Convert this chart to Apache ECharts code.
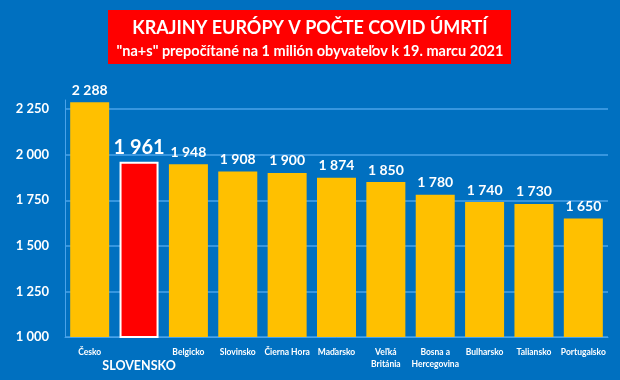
<!DOCTYPE html>
<html><head><meta charset="utf-8">
<script src="https://cdn.jsdelivr.net/npm/echarts@6/dist/echarts.min.js"></script>
<style>html,body{margin:0;padding:0;background:#0070C0;}#c{width:620px;height:380px;}</style>
</head><body><div id="c"></div>
<script>
const categories = ['Česko','SLOVENSKO','Belgicko','Slovinsko','Čierna Hora','Maďarsko','Veľká\nBritánia','Bosna a\nHercegovina','Bulharsko','Taliansko','Portugalsko'];
const values = [2288,1961,1948,1908,1900,1874,1850,1780,1740,1730,1650];
const highlight = 'SLOVENSKO';
const titleText = 'KRAJINY EURÓPY V POČTE COVID ÚMRTÍ';
const subtitleText = '"na+s" prepočítané na 1 milión obyvateľov k 19. marcu 2021';

const FONT = 'Lato';
const fmt = v => String(v).replace(/\B(?=(\d{3})+(?!\d))/g, ' ');

const chart = echarts.init(document.getElementById('c'));
chart.setOption({
  backgroundColor: '#0070C0',
  animation: false,
  grid: {left: 65, right: 12, top: 100, bottom: 43},
  xAxis: {
    type: 'category',
    data: categories.map(c => c === highlight
      ? {value: c, textStyle: {fontSize: 12.5, padding: [14, 0, 0, 0]}}
      : c),
    axisLine: {lineStyle: {color: '#4aa3ea', width: 1}},
    axisTick: {show: false},
    axisLabel: {color: '#fff', fontFamily: FONT, fontWeight: 'bold', fontSize: 8.5, margin: 9, interval: 0, lineHeight: 12}
  },
  yAxis: {
    type: 'value', min: 1000, max: 2300, interval: 250,
    axisLine: {show: true, lineStyle: {color: '#4aa3ea', width: 1}},
    axisTick: {show: false},
    splitLine: {lineStyle: {color: ['#4aa3ea','#4aa3ea','#4aa3ea','#4aa3ea','#4aa3ea','#4aa3ea','rgba(0,0,0,0)'], width: 1.5}},
    axisLabel: {color: '#fff', fontFamily: FONT, fontWeight: 'bold', fontSize: 13, margin: 16,
      formatter: v => v % 250 === 0 ? fmt(v) : ''}
  },
  series: [{
    type: 'bar',
    barWidth: '79%',
    data: values.map((v, i) => categories[i] === highlight
      ? {value: v, itemStyle: {color: '#FF0000', borderColor: '#fff', borderWidth: 2},
         label: {fontSize: 20, distance: 4}}
      : v),
    itemStyle: {color: '#FFC000'},
    label: {show: true, position: 'top', distance: 5, color: '#fff', fontFamily: FONT, fontWeight: 'bold', fontSize: 14,
      formatter: p => fmt(p.value)}
  }],
  graphic: [
    {type: 'rect', left: 108, top: 10, shape: {width: 403, height: 54}, style: {fill: '#FF0000'}},
    {type: 'text', x: 310, y: 28, style: {text: titleText, fill: '#fff', font: 'bold 18px ' + FONT, textAlign: 'center', textVerticalAlign: 'middle'}},
    {type: 'text', x: 310, y: 51, style: {text: subtitleText, fill: '#fff', font: 'bold 14.5px ' + FONT, textAlign: 'center', textVerticalAlign: 'middle'}}
  ]
});
</script></body></html>
